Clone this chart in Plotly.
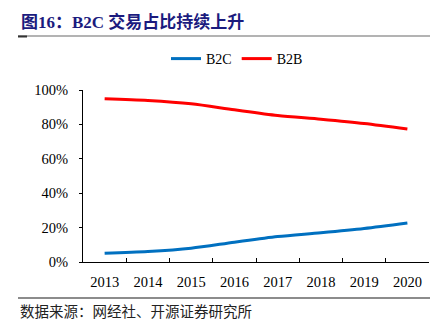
import plotly.graph_objects as go

years = ["2013", "2014", "2015", "2016", "2017", "2018", "2019", "2020"]
b2c = [5.1, 6.1, 8.0, 11.5, 14.8, 17.0, 19.5, 22.7]
b2b = [94.9, 93.9, 92.0, 88.5, 85.2, 83.0, 80.5, 77.3]
y_ticks = [0, 20, 40, 60, 80, 100]
y_tick_labels = ["0%", "20%", "40%", "60%", "80%", "100%"]

W, H = 448, 330
L, R, T, B = 83, 19, 90, 68
pw, ph = W - L - R, H - T - B

def px_x(x):
    return (x - L) / pw

def px_y(y):
    return (H - B - y) / ph

serif = "Liberation Serif, Times New Roman, serif"

fig = go.Figure()
fig.add_trace(go.Scatter(x=years, y=b2c, name="B2C", mode="lines",
                         line=dict(color="#0070C0", width=3, shape="spline", smoothing=0.8)))
fig.add_trace(go.Scatter(x=years, y=b2b, name="B2B", mode="lines",
                         line=dict(color="#FF0000", width=3, shape="spline", smoothing=0.8)))

fig.update_layout(
    width=W, height=H,
    margin=dict(l=L, r=R, t=T, b=B, pad=0),
    paper_bgcolor="white", plot_bgcolor="white",
    font=dict(family=serif, size=14, color="#000000"),
    showlegend=True,
    legend=dict(orientation="h", x=px_x(166), xanchor="left", y=px_y(59), yanchor="middle",
                font=dict(family=serif, size=14), itemwidth=30, tracegroupgap=0,
                bgcolor="rgba(0,0,0,0)"),
    xaxis=dict(type="category", range=[-0.5, 7.5], showline=True, linecolor="#000000",
               linewidth=1, ticks="inside", ticklen=4, tickcolor="#000000",
               tickson="boundaries", showgrid=False, zeroline=False,
               tickfont=dict(family=serif, size=14.5), ticklabelstandoff=7),
    yaxis=dict(range=[0, 100], tickvals=y_ticks, ticktext=y_tick_labels, showline=True,
               linecolor="#000000", linewidth=1, ticks="outside", ticklen=3,
               tickcolor="#000000", showgrid=False, zeroline=False,
               tickfont=dict(family=serif, size=14.5), ticklabelstandoff=8),
)

fig.add_annotation(text="<b>图16：B2C 交易占比持续上升</b>", xref="paper", yref="paper",
                   x=px_x(19), y=px_y(22), xanchor="left", yanchor="middle", showarrow=False,
                   font=dict(family="Liberation Serif, Noto Sans CJK SC", size=17, color="#1B1B7E"))
fig.add_shape(type="line", xref="paper", yref="paper", x0=px_x(18), x1=px_x(430),
              y0=px_y(36), y1=px_y(36), line=dict(color="#9A9A9A", width=1.5))
fig.add_shape(type="line", xref="paper", yref="paper", x0=px_x(18), x1=px_x(27),
              y0=px_y(36.5), y1=px_y(36.5), line=dict(color="#333333", width=2))
fig.add_shape(type="line", xref="paper", yref="paper", x0=px_x(18), x1=px_x(430),
              y0=px_y(298), y1=px_y(298), line=dict(color="#666666", width=1.5))
fig.add_annotation(text="数据来源：网经社、开源证券研究所", xref="paper", yref="paper",
                   x=px_x(18), y=px_y(310), xanchor="left", yanchor="middle", showarrow=False,
                   font=dict(family="Noto Sans CJK SC", size=14.5, color="#222222"))

fig.write_html("out.html")
